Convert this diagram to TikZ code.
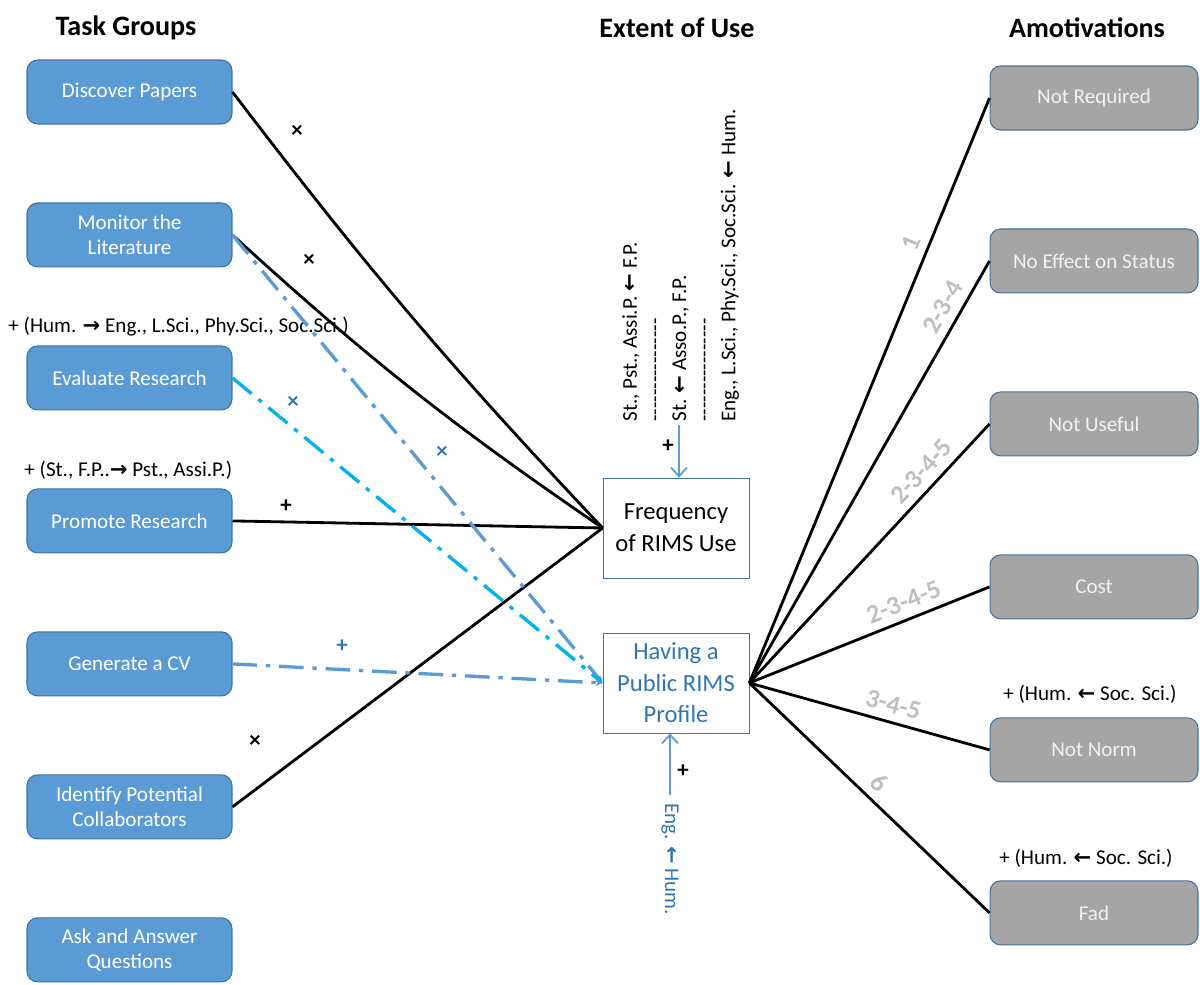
\documentclass[tikz,border=0pt]{standalone}
\usepackage{fontspec}
\setmainfont{Carlito}
\newfontfamily\symfont{DejaVu Sans}
\usetikzlibrary{arrows,positioning}
\usetikzlibrary{arrows.meta}
\definecolor{taskblue}{HTML}{5B9BD5}
\definecolor{boxedge}{HTML}{41719C}
\definecolor{amotgray}{HTML}{A5A5A5}
\definecolor{amottext}{HTML}{F2F2F2}
\definecolor{profblue}{HTML}{2E75B6}
\definecolor{evalcyan}{HTML}{00B0F0}
\definecolor{numgray}{HTML}{BFBFBF}
\newcommand{\ra}{{\symfont\bfseries →}}
\newcommand{\la}{{\symfont\bfseries ←}}
\newcommand{\dashrow}{-{}-{}-{}-{}-{}-{}-{}-{}-{}-{}-{}-{}-{}-{}-{}-{}}

\begin{document}
\begin{tikzpicture}[x=0.02cm,y=-0.02cm,font=\fontsize{12}{14.4}\selectfont,>=stealth',node distance=2.86cm]
\tikzstyle{task} = [rectangle, rounded corners=6pt, draw=boxedge, fill=taskblue,
    text=white, minimum width=4.1cm, minimum height=1.28cm, align=center, line width=0.6pt]
\tikzstyle{amot} = [task, fill=amotgray, text=amottext, minimum width=4.16cm]
\tikzstyle{extent} = [rectangle, draw=boxedge, minimum width=2.92cm, minimum height=2cm,
    align=center, font=\fontsize{14}{18}\selectfont]
\tikzstyle{title} = [font=\fontsize{16}{19}\selectfont\bfseries]
\tikzstyle{link} = [line width=1.6pt]
\tikzstyle{dashlink} = [line width=1.9pt, dash pattern=on 14pt off 5pt on 2.5pt off 5pt,
    -{Stealth[length=4pt,width=4pt]}]
\tikzstyle{vlink} = [draw=taskblue, line width=1pt, -{Straight Barb[length=5pt,width=9pt]}]
\tikzstyle{sign} = [font=\fontsize{13}{14}\selectfont\bfseries, inner sep=0pt]
\tikzstyle{num} = [text=numgray, font=\fontsize{15}{16}\selectfont\bfseries, sloped, above=1pt]
\tikzstyle{note} = [font=\fontsize{12}{14}\selectfont, inner sep=0pt]

\useasboundingbox (0,0) rectangle (1200,984);

% column titles
\node[title] (ttask) at (126,28) {Task Groups};
\node[title] (textent) at (677,28) {Extent of Use};
\node[title] (tamot) at (1087,28) {Amotivations};

% task groups
\node[task] (discover) at (129.5,92) {Discover Papers};
\node[task, below of=discover] (monitor) {Monitor the\\Literature};
\node[task, below of=monitor] (evaluate) {Evaluate Research};
\node[task, below of=evaluate] (promote) {Promote Research};
\node[task, below of=promote] (cv) {Generate a CV};
\node[task, below of=cv] (identify) {Identify Potential\\Collaborators};
\node[task, below of=identify] (ask) {Ask and Answer\\Questions};

% extent of use
\node[extent] (freq) at (676,528) {Frequency\\of RIMS Use};
\node[extent, below of=freq, node distance=3.1cm, text=profblue] (prof) {Having a\\Public RIMS\\Profile};

% amotivations
\node[amot] (notreq) at (1094,98) {Not Required};
\node[amot, below of=notreq, node distance=3.26cm] (noeffect) {No Effect on Status};
\node[amot, below of=noeffect, node distance=3.26cm] (notuseful) {Not Useful};
\node[amot, below of=notuseful, node distance=3.26cm] (cost) {Cost};
\node[amot, below of=cost, node distance=3.26cm] (notnorm) {Not Norm};
\node[amot, below of=notnorm, node distance=3.26cm] (fad) {Fad};

% notes
\node[note, anchor=west] (evalnote) at (8,327) {+ (Hum. \ra{} Eng., L.Sci., Phy.Sci., Soc.Sci.)};
\node[note, anchor=west] (promnote) at (24,470) {+ (St., F.P..\ra{} Pst., Assi.P.)};
\node[note] (normnote) at (1090,694) {+ (Hum. \la{} Soc. Sci.)};
\node[note] (fadnote) at (1086,858) {+ (Hum. \la{} Soc. Sci.)};
\node[note, rotate=90, anchor=north west, align=left] (freqnote) at (622,422)
    {St., Pst., Assi.P. \la{} F.P.\\\dashrow\\St. \la{} Asso.P., F.P.\\\dashrow\\Eng., L.Sci., Phy.Sci., Soc.Sci. \la{} Hum.};
\node[note, rotate=-90, anchor=west, text=profblue] (profnote) at (670,803) {Eng. \la{} Hum.};

% task groups -> frequency
\draw[link] (discover.east) to[bend right=3] (freq.west);
\draw[link] (monitor.east) to[bend right=4] (freq.west);
\draw[link] (promote.east) -- (freq.west);
\draw[link] (identify.east) -- (freq.west);

% task groups -> profile
\draw[dashlink, taskblue] (monitor.east) -- (prof.west);
\draw[dashlink, evalcyan] (evaluate.east) -- (prof.west);
\draw[dashlink, taskblue] (cv.east) -- (prof.west);

% moderators
\coordinate (freqsrc) at (679,425);
\draw[vlink] (freqsrc) -- (freqsrc |- freq.north);
\coordinate (profsrc) at (670,795);
\draw[vlink] (profsrc) -- (profsrc |- prof.south);

% profile -> amotivations
\draw[link] (prof.east) -- node[num, pos=0.74] {1} (notreq.west);
\draw[link] (prof.east) -- node[num, pos=0.87] {2-3-4} (noeffect.west);
\draw[link] (prof.east) -- node[num, pos=0.77] {2-3-4-5} (notuseful.west);
\draw[link] (prof.east) -- node[num, pos=0.67] {2-3-4-5} (cost.west);
\draw[link] (prof.east) -- node[num, pos=0.58] {3-4-5} (notnorm.west);
\draw[link] (prof.east) -- node[num, pos=0.49] {6} (fad.west);

% signs
\node[sign] (sdiscover) at (297,131) {×};
\node[sign] (smonitor) at (309,260) {×};
\node[sign] (spromote) at (286,506) {+};
\node[sign] (sidentify) at (255,741) {×};
\node[sign, text=profblue] (sevaluate) at (293,402) {×};
\node[sign, text=profblue] (smonprof) at (442,452) {×};
\node[sign, text=profblue] (scv) at (342,646) {+};
\node[sign] (sfreq) at (668,446) {+};
\node[sign] (sprof) at (683,771) {+};

\end{tikzpicture}
\end{document}
